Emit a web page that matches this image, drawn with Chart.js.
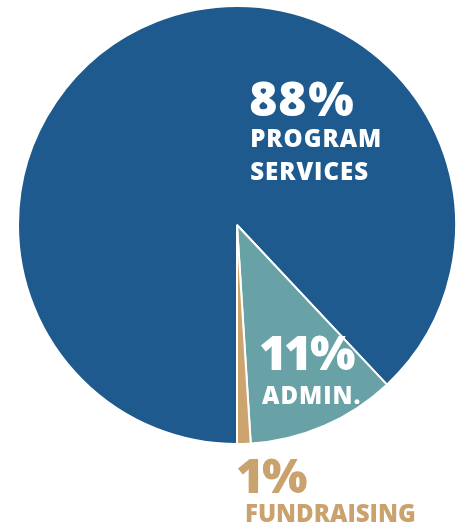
<!DOCTYPE html>
<html>
<head>
<meta charset="utf-8">
<script src="https://cdn.jsdelivr.net/npm/chart.js@4.4.1/dist/chart.umd.min.js"></script>
<style>
  html, body { margin: 0; padding: 0; background: #ffffff; }
  #wrap { width: 457px; height: 525px; }
</style>
</head>
<body>
<div id="wrap"><canvas id="c" width="457" height="525"></canvas></div>
<script>
const categories = ["PROGRAM SERVICES", "ADMIN.", "FUNDRAISING"];
const percents = [88, 11, 1];
const percentLabels = ["88%", "11%", "1%"];
const labelLines = [["PROGRAM", "SERVICES"], ["ADMIN."], ["FUNDRAISING"]];

const sliceColors = ["#1f5a8e", "#68a2a6", "#cca46f"];
const textColors = ["#ffffff", "#ffffff", "#c9a26d"];

// label anchors relative to pie centre, in units of radius
const labelLayout = [
  { dx: 0.060, numBase: -0.500, lineBases: [-0.356, -0.205], lineSize: 24, lineSpacing: 1, lineDx: 0 },
  { dx: 0.105, numBase: 0.662, lineBases: [0.817], lineSize: 24, lineSpacing: 1, lineDx: 2 },
  { dx: 0.000, numBase: 1.224, lineBases: [1.356], lineSize: 24, lineSpacing: 0, lineDx: 8 }
];

// draw text glyph-by-glyph with ink-based proportional spacing
function drawTight(ctx, text, x, y, gap) {
  let pen = x;
  for (const ch of text) {
    const m = ctx.measureText(ch);
    const left = m.actualBoundingBoxLeft;
    const inkW = m.actualBoundingBoxLeft + m.actualBoundingBoxRight;
    ctx.fillText(ch, pen + left, y);
    pen += inkW + gap;
  }
}

const labelPlugin = {
  id: 'labels',
  afterDraw(chart) {
    const ctx = chart.ctx;
    const meta = chart.getDatasetMeta(0);
    const arc = meta.data[0];
    const cx = arc.x, cy = arc.y, r = arc.outerRadius;
    ctx.save();
    ctx.textAlign = 'left';
    ctx.textBaseline = 'alphabetic';
    labelLayout.forEach((L, i) => {
      ctx.fillStyle = textColors[i];
      const x = cx + L.dx * r;
      ctx.font = '800 48px "Open Sans"';
      ctx.letterSpacing = '0px';
      drawTight(ctx, percentLabels[i], x, cy + L.numBase * r, 3);
      ctx.font = '800 ' + L.lineSize + 'px "Open Sans"';
      ctx.letterSpacing = L.lineSpacing + 'px';
      labelLines[i].forEach((t, j) => {
        ctx.fillText(t, x + L.lineDx, cy + L.lineBases[j] * r);
      });
    });
    ctx.letterSpacing = '0px';
    ctx.restore();
  }
};

new Chart(document.getElementById('c'), {
  type: 'pie',
  data: {
    labels: categories,
    datasets: [{
      data: percents,
      backgroundColor: sliceColors,
      borderColor: '#ffffff',
      borderWidth: 2
    }]
  },
  options: {
    responsive: false,
    animation: false,
    rotation: 180,
    layout: { padding: { left: 17, right: 0, top: 5, bottom: 80 } },
    plugins: { legend: { display: false }, tooltip: { enabled: false } }
  },
  plugins: [labelPlugin]
});
</script>
</body>
</html>
